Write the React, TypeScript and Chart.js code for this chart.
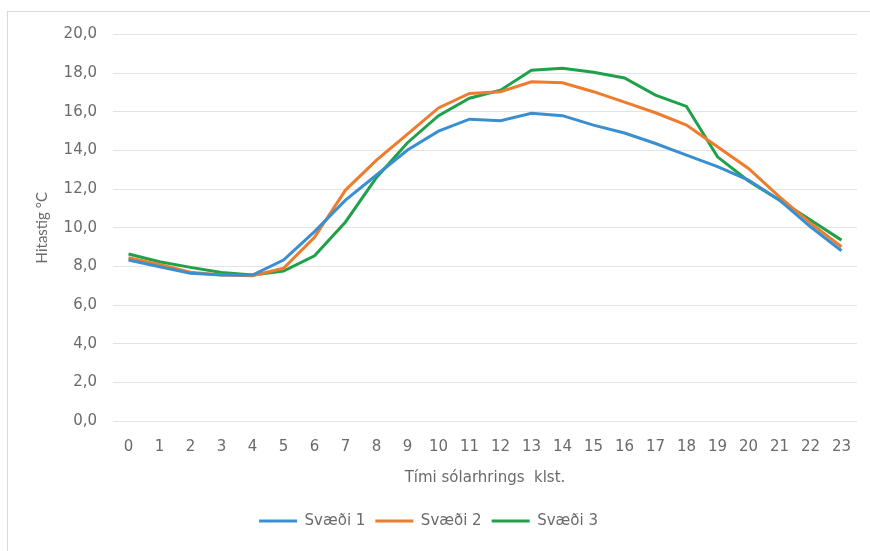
import React, { useEffect, useRef } from "react";
import { Chart, registerables } from "chart.js";

Chart.register(...registerables);

const hours: string[] = ["0","1","2","3","4","5","6","7","8","9","10","11","12","13","14","15","16","17","18","19","20","21","22","23"];
const svaedi1: number[] = [8.33, 7.98, 7.64, 7.55, 7.55, 8.33, 9.8, 11.43, 12.73, 14.02, 15.0, 15.62, 15.54, 15.92, 15.8, 15.31, 14.9, 14.36, 13.76, 13.16, 12.47, 11.43, 10.05, 8.81];
const svaedi2: number[] = [8.45, 8.1, 7.7, 7.55, 7.52, 7.9, 9.5, 11.95, 13.5, 14.85, 16.2, 16.95, 17.04, 17.55, 17.5, 17.04, 16.5, 15.95, 15.31, 14.19, 13.07, 11.6, 10.24, 9.02];
const svaedi3: number[] = [8.64, 8.24, 7.95, 7.69, 7.55, 7.76, 8.55, 10.3, 12.6, 14.4, 15.8, 16.7, 17.12, 18.15, 18.25, 18.05, 17.75, 16.86, 16.28, 13.67, 12.42, 11.43, 10.4, 9.36];
const seriesNames: string[] = ["Svæði 1", "Svæði 2", "Svæði 3"];
const xTitle = "Tími sólarhrings  klst.";
const yTitle = "Hitastig °C";

const COLORS = ["#3a8fd0", "#ef7b2d", "#1ea14a"];
const TEXT = "#6a6a6a";
const FONT = "'DejaVu Sans', sans-serif";

export default function App() {
  const ref = useRef<HTMLCanvasElement | null>(null);
  useEffect(() => {
    if (!ref.current) return;
    const series = [svaedi1, svaedi2, svaedi3];
    const chart = new Chart(ref.current, {
      type: "line",
      data: {
        labels: hours,
        datasets: series.map((d, i) => ({
          label: seriesNames[i],
          data: d,
          borderColor: COLORS[i],
          backgroundColor: COLORS[i],
          borderWidth: 3,
          pointRadius: 0,
          tension: 0,
          fill: false,
        })),
      },
      options: {
        animation: false,
        responsive: false,
        maintainAspectRatio: false,
        layout: { padding: { left: 0, right: 13, top: 34.5, bottom: 12.5 } },
        plugins: {
          tooltip: { enabled: false },
          legend: {
            position: "bottom",
            labels: {
              color: TEXT,
              font: { family: FONT, size: 15 },
              boxWidth: 38,
              boxHeight: 3,
              padding: 10,
              generateLabels: (c: any) => {
                const items = Chart.defaults.plugins.legend.labels.generateLabels(c);
                return items.map((it: any, i: number) => ({ ...it, fillStyle: COLORS[i], strokeStyle: COLORS[i], lineWidth: 0 }));
              },
            },
          },
        },
        scales: {
          x: {
            offset: true,
            grid: { display: false, drawTicks: false },
            border: { display: false },
            ticks: { color: TEXT, font: { family: FONT, size: 15 }, padding: 17, maxRotation: 0, autoSkip: false },
            title: { display: true, text: xTitle, color: TEXT, font: { family: FONT, size: 15 }, padding: { top: 0, bottom: 16 } },
            afterFit: (s: any) => { s.height = 82.5; },
          },
          y: {
            min: 0,
            max: 20,
            grid: { color: "#e3e3e3", lineWidth: 1, drawTicks: false },
            border: { display: false },
            ticks: {
              stepSize: 2,
              color: TEXT,
              font: { family: FONT, size: 15 },
              padding: 16,
              callback: (v: any) => Number(v).toFixed(1).replace(".", ","),
            },
            title: { display: true, text: yTitle, color: TEXT, font: { family: "Lato, sans-serif", size: 15 }, padding: { top: 33, bottom: 0 } },
            afterFit: (s: any) => { s.width = 113; },
          },
        },
      },
    });
    return () => chart.destroy();
  }, []);
  return (
    <div style={{ position: "fixed", left: 0, top: 0, width: 870, height: 551, background: "#fff", overflow: "hidden" }}>
      <canvas ref={ref} width={870} height={551} style={{ position: "absolute", left: 0, top: 0, width: 870, height: 551 }} />
      <div style={{ position: "absolute", left: 7, top: 11, width: 870, height: 600, borderLeft: "1px solid #d9d9d9", borderTop: "1px solid #d9d9d9", pointerEvents: "none" }} />
    </div>
  );
}
